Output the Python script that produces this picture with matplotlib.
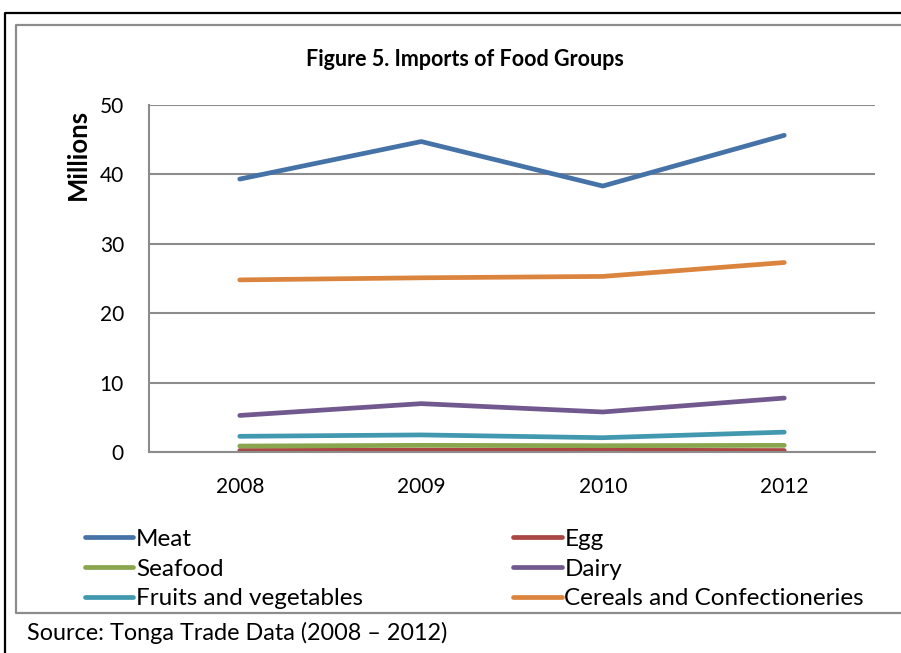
import matplotlib
matplotlib.use("Agg")
import matplotlib.pyplot as plt
from matplotlib.lines import Line2D

plt.rcParams['font.family'] = ['Lato', 'DejaVu Sans']

# import values by food group, millions
years = ['2008', '2009', '2010', '2012']
meat = [39.3, 44.7, 38.3, 45.6]
egg = [0.25, 0.3, 0.3, 0.25]
seafood = [0.9, 1.0, 0.95, 1.0]
dairy = [5.3, 7.0, 5.8, 7.8]
fruits_veg = [2.3, 2.5, 2.1, 2.9]
cereals = [24.8, 25.1, 25.3, 27.3]

W, H = 901, 653
fig = plt.figure(figsize=(W / 100, H / 100), dpi=100)


def fx(x):
    return x / W


def fy(y):
    return 1 - y / H


# page frame and chart box
fig.add_artist(Line2D([fx(5), fx(5), 1.0], [0, fy(13), fy(13)], color='black', lw=1.6,
                      transform=fig.transFigure))
fig.add_artist(Line2D([1.0, fx(16), fx(16), 1.0], [fy(25), fy(25), fy(613), fy(613)],
                      color='#8c8c8c', lw=1.6, transform=fig.transFigure))

ax = fig.add_axes([fx(149), fy(452.3), fx(875) - fx(149), fy(104.7) - fy(452.3)])

series = [
    ('Meat', meat, '#4572A7'),
    ('Egg', egg, '#AA4643'),
    ('Seafood', seafood, '#89A54E'),
    ('Dairy', dairy, '#71588F'),
    ('Fruits and vegetables', fruits_veg, '#4198AF'),
    ('Cereals and Confectioneries', cereals, '#DB843D'),
]
x = range(len(years))
lines = []
for name, vals, col in series:
    ln, = ax.plot(x, vals, color=col, lw=3.4, solid_capstyle='round', solid_joinstyle='round', label=name)
    lines.append(ln)

ax.set_xlim(-0.5, len(years) - 0.5)
ax.set_ylim(0, 50)
ax.set_yticks(range(0, 51, 10))
ax.set_xticks(list(x))
ax.set_xticklabels(years)
ax.grid(axis='y', color='#8c8c8c', lw=1.5)
ax.set_axisbelow(True)
for s in ['top', 'right']:
    ax.spines[s].set_visible(False)
for s in ['left', 'bottom']:
    ax.spines[s].set_color('#8c8c8c')
    ax.spines[s].set_linewidth(1.5)
ax.tick_params(length=0, labelsize=15, pad=18)
ax.tick_params(axis='x', pad=18)

fig.text(fx(78), fy(154.5), 'Millions', rotation=90, ha='center', va='center',
         fontsize=18.5, fontweight='bold')
fig.text(fx(465), fy(59), 'Figure 5. Imports of Food Groups', ha='center', va='center',
         fontsize=15.5, fontweight='bold')

# legend reads across rows: reorder for column-major filling
order = [0, 2, 4, 1, 3, 5]
fig.legend([lines[i] for i in order], [series[i][0] for i in order],
           loc='upper left', bbox_to_anchor=(fx(75), fy(519)), ncol=2, frameon=False,
           fontsize=17.5, handlelength=2.0, handletextpad=0.1, columnspacing=6.2,
           labelspacing=0.36, borderaxespad=0)

fig.text(fx(27), fy(633), 'Source: Tonga Trade Data (2008 \u2013 2012)', ha='left', va='center',
         fontsize=16.8)

fig.savefig('out.png', dpi=100)
